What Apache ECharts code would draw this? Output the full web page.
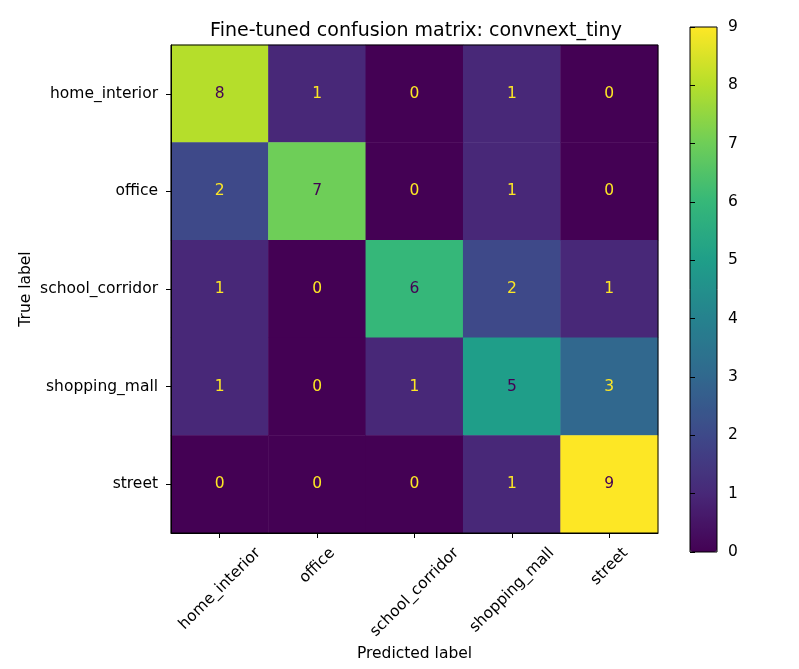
<!DOCTYPE html>
<html>
<head>
<meta charset="utf-8">
<script src="https://cdn.jsdelivr.net/npm/echarts@6/dist/echarts.min.js"></script>
<style>
  html, body { margin: 0; padding: 0; background: #fff; }
  #chart { width: 799px; height: 669px; }
</style>
</head>
<body>
<div id="chart"></div>
<script>
// labels (rows = true, cols = predicted)
var classNames = ['home_interior', 'office', 'school_corridor', 'shopping_mall', 'street'];
// confusion matrix rows
var rowHome = [8, 1, 0, 1, 0];
var rowOffice = [2, 7, 0, 1, 0];
var rowSchool = [1, 0, 6, 2, 1];
var rowMall = [1, 0, 1, 5, 3];
var rowStreet = [0, 0, 0, 1, 9];
var colorbarTicks = [0, 1, 2, 3, 4, 5, 6, 7, 8, 9];

var matrix = [rowHome, rowOffice, rowSchool, rowMall, rowStreet];
var viridis = ['#440154', '#482878', '#3e4989', '#31688e', '#26828e',
               '#1f9e89', '#35b779', '#6ece58', '#b5de2b', '#fde725'];

var font = 'DejaVu Sans';
var fs = 15.5;
var vmin = 0, vmax = 9;

var heatData = [];
for (var i = 0; i < matrix.length; i++) {
  for (var j = 0; j < matrix[i].length; j++) {
    var v = matrix[i][j];
    heatData.push({
      value: [j, i, v],
      label: { color: v > (vmin + vmax) / 2 ? '#440154' : '#fde725' }
    });
  }
}

// rotated x labels centred under the tick (like matplotlib rotation=45)
var ctx = document.createElement('canvas').getContext('2d');
ctx.font = fs + 'px "' + font + '"';
var xCats = classNames.map(function (name) {
  var w = ctx.measureText(name).width;
  var h = fs;
  var d = 0.354 * (w + h);
  return {
    value: name,
    textStyle: {
      align: 'center', verticalAlign: 'top',
      padding: [Math.max(0, 0.707 * d - h / 2), 1.414 * d, 0, 0]
    }
  };
});

var chart = echarts.init(document.getElementById('chart'));
var option = {
  animation: false,
  backgroundColor: '#fff',
  title: {
    text: 'Fine-tuned confusion matrix: convnext_tiny',
    left: 411, top: 17, textAlign: 'center',
    textStyle: { fontFamily: font, fontSize: 19, fontWeight: 'normal', color: '#000' }
  },
  grid: [
    { left: 171, top: 45, width: 487, height: 488, outerBoundsMode: 'none', show: true, borderColor: '#000', borderWidth: 1, backgroundColor: 'transparent', z: 5 },
    { left: 690, top: 27, width: 27, height: 525, outerBoundsMode: 'none', show: true, borderColor: '#000', borderWidth: 1, backgroundColor: 'transparent', z: 5 }
  ],
  xAxis: [{
    type: 'category', gridIndex: 0, data: xCats, z: 10,
    name: 'Predicted label', nameLocation: 'middle', nameGap: 113, nameMoveOverlap: false,
    nameTextStyle: { fontFamily: font, fontSize: fs, color: '#000' },
    axisLine: { lineStyle: { color: '#000' } },
    axisTick: { show: true, alignWithLabel: true, length: 5, lineStyle: { color: '#000', width: 1 } },
    axisLabel: { rotate: 45, interval: 0,
      fontFamily: font, fontSize: fs, color: '#000', margin: 12 },
    splitLine: { show: false }
  }, {
    type: 'value', gridIndex: 1, show: false, min: 0, max: 1
  }],
  yAxis: [{
    type: 'category', gridIndex: 0, data: classNames, inverse: true, z: 10,
    name: 'True label', nameLocation: 'middle', nameGap: 137, nameMoveOverlap: false,
    nameTextStyle: { fontFamily: font, fontSize: fs, color: '#000' },
    axisLine: { lineStyle: { color: '#000' } },
    axisTick: { show: true, alignWithLabel: true, length: 5, lineStyle: { color: '#000', width: 1 } },
    axisLabel: { fontFamily: font, fontSize: fs, color: '#000', margin: 13 },
    splitLine: { show: false }
  }, {
    type: 'value', gridIndex: 1, position: 'right', min: vmin, max: vmax, interval: 1, z: 10,
    axisLine: { show: false },
    axisTick: { show: true, length: 5, lineStyle: { color: '#000' } },
    axisLabel: {
      fontFamily: font, fontSize: fs, color: '#000', margin: 11,
      formatter: function (val) { return colorbarTicks.indexOf(val) >= 0 ? String(val) : ''; }
    },
    splitLine: { show: false }
  }],
  visualMap: {
    type: 'continuous', min: vmin, max: vmax, calculable: false,
    left: 690, top: 27, itemWidth: 27, itemHeight: 525, padding: 0,
    orient: 'vertical', seriesIndex: 0,
    inRange: { color: viridis },
    showLabel: false, text: null
  },
  series: [{
    type: 'heatmap', xAxisIndex: 0, yAxisIndex: 0,
    data: heatData,
    label: { show: true, fontFamily: font, fontSize: fs },
    itemStyle: { borderWidth: 0 },
    emphasis: { disabled: true }
  }]
};
chart.setOption(option);
</script>
</body>
</html>
